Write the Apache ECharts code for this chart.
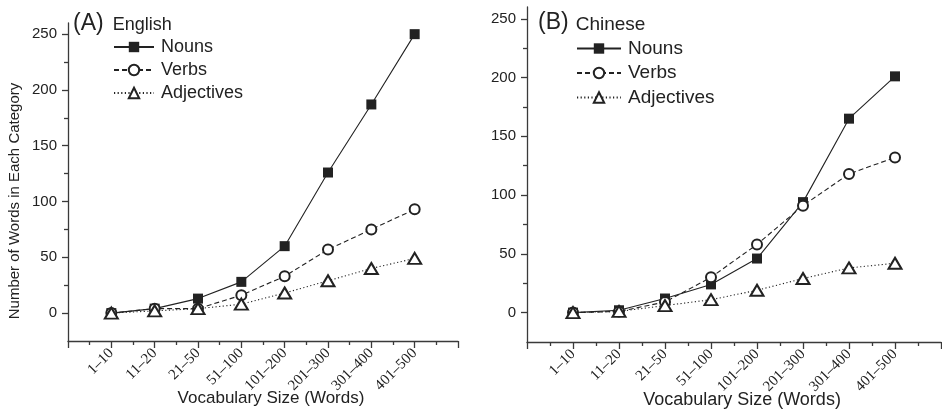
<!DOCTYPE html>
<html>
<head>
<meta charset="utf-8">
<script src="https://cdn.jsdelivr.net/npm/echarts@6/dist/echarts.min.js"></script>
<style>
  html, body { margin: 0; padding: 0; background: #fff; }
  #chart { width: 942px; height: 413px; }
</style>
</head>
<body>
<div id="chart"></div>
<script>
// vocabulary size bins (x categories)
var categories = ['1–10', '11–20', '21–50', '51–100', '101–200', '201–300', '301–400', '401–500'];
var seriesNames = ['Nouns', 'Verbs', 'Adjectives'];

// (A) English
var enNouns = [0, 4, 13, 28, 60, 126, 187, 250];
var enVerbs = [0, 4, 4, 16, 33, 57, 75, 93];
var enAdjectives = [0, 2, 4, 8, 18, 29, 40, 49];

// (B) Chinese
var zhNouns = [0, 2, 12, 24, 46, 94, 165, 201];
var zhVerbs = [0, 1, 9, 30, 58, 91, 118, 132];
var zhAdjectives = [0, 1, 6, 11, 19, 29, 38, 42];

// y tick labels
var yTicks = [0, 50, 100, 150, 200, 250];
var yMinorTicks = [25, 75, 125, 175, 225];

var ink = '#222';
var axisColor = '#3a3a3a';

function toPoints(values) {
  // category i sits at x = i + 1 on a 0..9 axis
  return values.map(function (v, i) { return [i + 1, v]; });
}

var xMajor = [];
var xMinor = [];
for (var k = 0; k <= categories.length + 1; k++) {
  xMajor.push(k);
  if (k <= categories.length) xMinor.push(k + 0.5);
}
var xLabelPos = categories.map(function (c, i) { return i + 1; });

function makeXAxes(gridIndex, labelSize, nameSize) {
  return [{
    type: 'value', gridIndex: gridIndex, min: 0, max: categories.length + 1,
    position: 'bottom',
    splitLine: { show: false },
    axisLine: { onZero: false, lineStyle: { color: axisColor, width: 1.3 } },
    axisTick: { customValues: xMajor, length: 7, lineStyle: { color: axisColor, width: 1.3 } },
    axisLabel: {
      customValues: xLabelPos,
      rotate: 45, margin: 10,
      fontFamily: 'Liberation Serif', fontSize: labelSize, color: ink,
      formatter: function (v) { return categories[Math.round(v) - 1] || ''; }
    },
    name: 'Vocabulary Size (Words)', nameLocation: 'middle', nameGap: 49, nameMoveOverlap: false,
    nameTextStyle: { fontFamily: 'Liberation Sans', fontSize: nameSize, color: ink, padding: [0, 0, 0, 16] }
  }, {
    type: 'value', gridIndex: gridIndex, min: 0, max: categories.length + 1,
    position: 'bottom',
    splitLine: { show: false },
    axisLine: { show: false, onZero: false },
    axisTick: { customValues: xMinor, length: 4, lineStyle: { color: axisColor, width: 1.3 } },
    axisLabel: { show: false }
  }];
}

function makeYAxes(gridIndex, labelSize, withName) {
  var major = {
    type: 'value', gridIndex: gridIndex, min: -25, max: 260,
    position: 'left',
    splitLine: { show: false },
    axisLine: { show: true, onZero: false, lineStyle: { color: axisColor, width: 1.3 } },
    axisTick: { show: true, customValues: yTicks, length: 6, lineStyle: { color: axisColor, width: 1.3 } },
    axisLabel: { customValues: yTicks, margin: 11, fontFamily: 'Liberation Sans', fontSize: labelSize, color: ink }
  };
  if (withName) {
    major.name = 'Number of Words in Each Category';
    major.nameLocation = 'middle';
    major.nameGap = 46;
    major.nameMoveOverlap = false;
    major.nameTextStyle = { fontFamily: 'Liberation Sans', fontSize: 15, color: ink, padding: [0, 38, 0, 0] };
  }
  return [major, {
    type: 'value', gridIndex: gridIndex, min: -25, max: 260,
    position: 'left',
    splitLine: { show: false },
    axisLine: { show: false, onZero: false },
    axisTick: { show: true, customValues: yMinorTicks, length: 4, lineStyle: { color: axisColor, width: 1.3 } },
    axisLabel: { show: false }
  }];
}

function makeSeries(axisIndex, nouns, verbs, adjectives) {
  var common = {
    type: 'line', xAxisIndex: axisIndex, yAxisIndex: axisIndex,
    showSymbol: true, showAllSymbol: true, animation: false, z: 3
  };
  return [
    Object.assign({}, common, {
      name: seriesNames[0], data: toPoints(nouns),
      symbol: 'rect', symbolSize: 10,
      lineStyle: { color: ink, width: 1.1, type: 'solid' },
      itemStyle: { color: ink, borderWidth: 0 }
    }),
    Object.assign({}, common, {
      name: seriesNames[1], data: toPoints(verbs),
      symbol: 'emptyCircle', symbolSize: 10,
      lineStyle: { color: ink, width: 1.1, type: [5, 3] },
      itemStyle: { color: ink, borderWidth: 1.2 }
    }),
    Object.assign({}, common, {
      name: seriesNames[2], data: toPoints(adjectives),
      symbol: 'emptyTriangle', symbolSize: [13, 11],
      lineStyle: { color: ink, width: 1.1, type: [1.2, 2.4] },
      itemStyle: { color: ink, borderWidth: 1.2 }
    })
  ];
}

function makeLegend(left, top, width, gap, size) {
  return {
    data: seriesNames, orient: 'vertical', left: left, top: top,
    padding: 0, itemWidth: width, itemHeight: 13, itemGap: gap,
    selectedMode: false,
    textStyle: { fontFamily: 'Liberation Sans', fontSize: size, color: ink, padding: [0, 0, 0, 2] }
  };
}

var chart = echarts.init(document.getElementById('chart'), null, { renderer: 'canvas' });

var option = {
  backgroundColor: '#fff',
  animation: false,
  title: [{
    text: '{a|(A)} {b|English}', left: 73, top: 11, padding: 0,
    textStyle: { fontWeight: 'normal', rich: {
      a: { fontFamily: 'Liberation Sans', fontWeight: 'normal', fontSize: 23, color: ink, lineHeight: 26 },
      b: { fontFamily: 'Liberation Sans', fontWeight: 'normal', fontSize: 18, color: ink, lineHeight: 26, padding: [2, 0, 0, 4] }
    } }
  }, {
    text: '{a|(B)} {b|Chinese}', left: 538, top: 10, padding: 0,
    textStyle: { fontWeight: 'normal', rich: {
      a: { fontFamily: 'Liberation Sans', fontWeight: 'normal', fontSize: 23, color: ink, lineHeight: 26 },
      b: { fontFamily: 'Liberation Sans', fontWeight: 'normal', fontSize: 19, color: ink, lineHeight: 26, padding: [3, 0, 0, 2] }
    } }
  }],
  legend: [
    makeLegend(113, 38, 40, 5, 18),
    makeLegend(576, 39, 44, 5.5, 19)
  ],
  grid: [
    { left: 68, right: 484, top: 23, bottom: 72, outerBoundsMode: 'none' },
    { left: 527, right: 1, top: 7, bottom: 71, outerBoundsMode: 'none' }
  ],
  xAxis: makeXAxes(0, 15, 17).concat(makeXAxes(1, 15, 18)),
  yAxis: makeYAxes(0, 15, true).concat(makeYAxes(1, 15, false)),
  series: makeSeries(0, enNouns, enVerbs, enAdjectives)
    .concat(makeSeries(2, zhNouns, zhVerbs, zhAdjectives))
};

chart.setOption(option);
</script>
</body>
</html>
